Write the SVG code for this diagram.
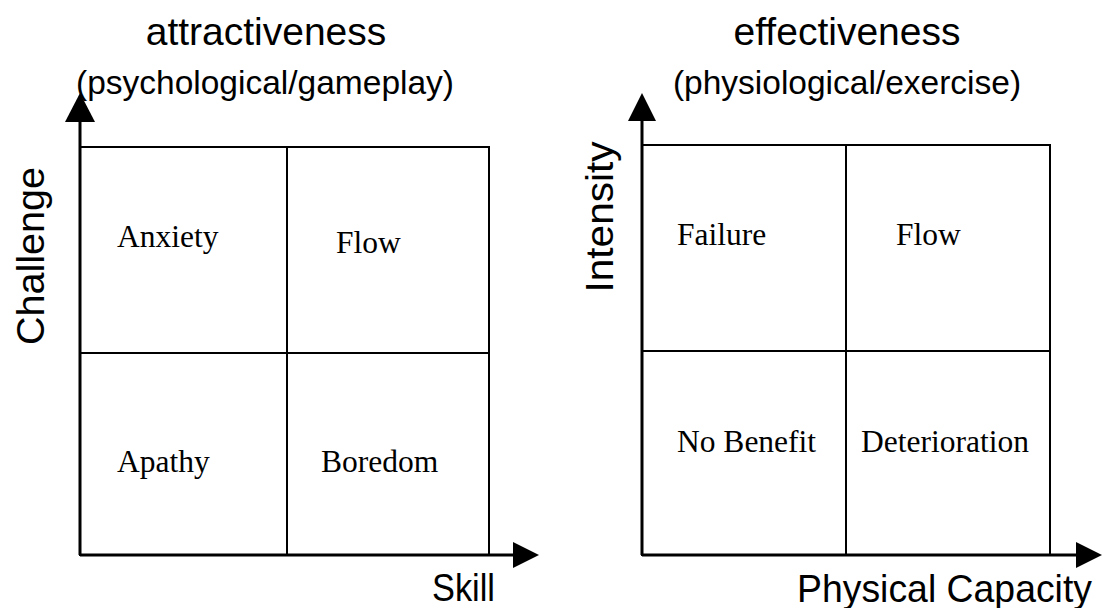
<svg xmlns="http://www.w3.org/2000/svg" width="1117" height="608" viewBox="0 0 1117 608">
<style>
.bg{fill:#ffffff}
.grid{fill:none;stroke:#000;stroke-width:2}
.axis{stroke:#000;stroke-width:3;fill:none}
.head{fill:#000}
.title{font-family:"Liberation Sans",Arial,sans-serif;font-size:39px;fill:#000;text-anchor:middle}
.sub{font-family:"Liberation Sans",Arial,sans-serif;font-size:33.5px;fill:#000;text-anchor:middle}
.ax{font-family:"Liberation Sans",Arial,sans-serif;font-size:39px;fill:#000}
.cell{font-family:"Liberation Serif","Times New Roman",serif;font-size:31.5px;fill:#000}
</style>
<rect class="bg" x="0" y="0" width="1117" height="608"/>
<g id="left-chart">
  <text class="title" x="266" y="45">attractiveness</text>
  <text class="sub" x="265" y="94">(psychological/gameplay)</text>
  <g id="left-grid">
    <rect class="grid" x="80" y="147" width="409" height="408"/>
    <line class="grid" x1="287" y1="147" x2="287" y2="555"/>
    <line class="grid" x1="80" y1="353" x2="489" y2="353"/>
  </g>
  <g id="cell-anxiety"><text class="cell" x="117" y="247">Anxiety</text></g>
  <g id="cell-flow-left"><text class="cell" x="336" y="253">Flow</text></g>
  <g id="cell-apathy"><text class="cell" x="117" y="472">Apathy</text></g>
  <g id="cell-boredom"><text class="cell" x="321" y="472">Boredom</text></g>
  <text class="ax" transform="translate(44,256) rotate(-90)" text-anchor="middle" textLength="178" lengthAdjust="spacingAndGlyphs">Challenge</text>
  <text class="ax" x="432" y="601" textLength="63" lengthAdjust="spacingAndGlyphs">Skill</text>
</g>
<g id="right-chart">
  <text class="title" x="847" y="45">effectiveness</text>
  <text class="sub" x="847" y="94">(physiological/exercise)</text>
  <g id="right-grid">
    <rect class="grid" x="642" y="145" width="408" height="410"/>
    <line class="grid" x1="846" y1="145" x2="846" y2="555"/>
    <line class="grid" x1="642" y1="351" x2="1050" y2="351"/>
  </g>
  <g id="cell-failure"><text class="cell" x="677" y="245">Failure</text></g>
  <g id="cell-flow-right"><text class="cell" x="896" y="245">Flow</text></g>
  <g id="cell-nobenefit"><text class="cell" x="677" y="452">No Benefit</text></g>
  <g id="cell-deterioration"><text class="cell" x="861" y="452">Deterioration</text></g>
  <text class="ax" transform="translate(613,217) rotate(-90)" text-anchor="middle" textLength="151" lengthAdjust="spacingAndGlyphs">Intensity</text>
  <text class="ax" x="797" y="602" textLength="295" lengthAdjust="spacingAndGlyphs">Physical Capacity</text>
</g>
<g id="connectors">
  <line class="axis" x1="80" y1="555" x2="80" y2="118"/>
  <polygon class="head" points="80,93 65,122 95,122"/>
  <line class="axis" x1="80" y1="555" x2="516" y2="555"/>
  <polygon class="head" points="539,555 513,542 513,568"/>
  <line class="axis" x1="642" y1="555" x2="642" y2="117"/>
  <polygon class="head" points="642,93 628,121 656,121"/>
  <line class="axis" x1="642" y1="555" x2="1079" y2="555"/>
  <polygon class="head" points="1102,555 1076,542 1076,568"/>
</g>
</svg>
